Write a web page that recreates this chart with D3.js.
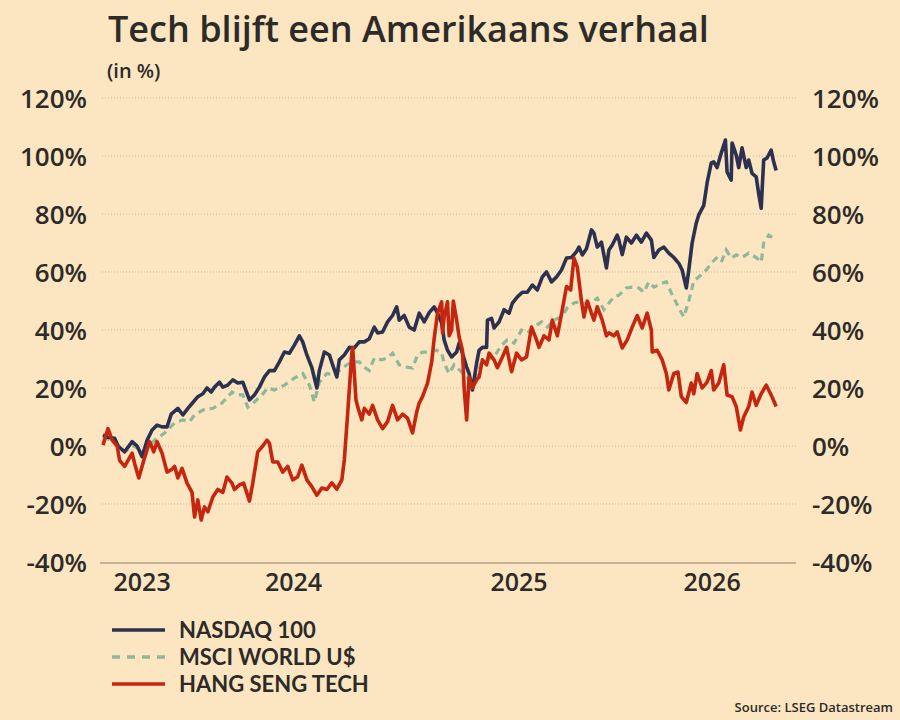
<!DOCTYPE html>
<html>
<head>
<meta charset="utf-8">
<script src="https://cdn.jsdelivr.net/npm/d3@7"></script>
<style>
  body { margin: 0; background: #fce6c1; }
  svg { display: block; font-family: "Open Sans", Lato, sans-serif; }
</style>
</head>
<body>
<div id="chart"></div>
<script>
// x values are trading days since start of the series, y values are % change
var nasdaq = [
  [0,3.8],[6,3],[14,2.7],[18,0],[26,-2],[35,1.5],[41,0],[47,-3.7],[53,2],[59,5.5],[65,7.2],[71,6.6],[77,6.6],
  [82,11],[90,13],[96,10.7],[102,13],[108,15],[114,17],[120,18],[125,20],[130,18.6],[134,20.3],[140,22],
  [144,20.3],[150,21],[156,22.8],[162,21.7],[168,22],[176,15.9],[182,17.6],[188,20.3],[194,23.8],[200,26],
  [206,26],[212,29],[218,32.4],[224,32],[230,34.8],[236,38],[240,35.9],[245,31.4],[251,27],[257,20],[260,26],
  [266,32.4],[272,31.4],[276,28],[281,23.8],[284,29.7],[290,31.4],[296,34],[302,33.8],[308,35.9],[314,35.9],
  [320,37],[326,41],[330,39],[336,39.3],[342,42.8],[348,45],[353,48],[356,43.4],[362,45],[368,41],[374,40],
  [380,45.8],[386,42.8],[392,46],[398,48],[402,45.8],[407,42.4],[410,36.6],[414,33],[419,30.7],[425,32.4],
  [428,35.5],[432,32],[437,27.2],[440,25],[444,19.3],[449,28.6],[452,33],[456,34],[461,34],[462,43.4],
  [467,44],[470,40.7],[476,42.8],[482,47],[488,45.8],[492,49.3],[498,51.4],[504,53],[510,53],[516,55.5],
  [522,53.8],[528,58.3],[533,60],[539,56.6],[545,58.3],[551,60.7],[557,64.8],[563,65],[569,67],[572,68.6],
  [576,65.9],[581,68],[587,74.5],[590,73.4],[594,68.6],[599,70.3],[605,61.4],[608,67.6],[612,69.3],[618,72.7],
  [620,71],[624,66],[629,72],[635,70],[641,72.7],[647,70.3],[653,73.4],[659,71],[662,65],[668,67.6],[674,68.6],
  [680,66.5],[686,65],[692,63],[696,60.7],[701,54.5],[704,60.7],[708,70],[713,76.9],[716,79.7],[722,83],
  [726,90.7],[731,97.6],[734,98],[738,96],[743,101],[748,105.5],[750,94.5],[755,91.7],[756,104.5],[761,100.3],
  [764,96],[768,102.8],[773,96],[776,98.6],[780,94],[785,92.8],[788,87],[791,82],[794,98.6],[798,99.3],
  [803,102],[806,98],[809,95]
];

var msciWorld = [
  [0,3],[14,1.5],[26,-2],[38,0],[47,-2],[65,2.7],[74,4.5],[86,8],[96,9],[104,8.4],[110,10.7],[120,12.4],
  [132,13],[143,14.8],[150,17],[155,18.6],[162,17.6],[168,17.6],[174,13.4],[182,15.2],[191,17.6],[198,20],
  [206,19.3],[218,21],[230,23.4],[240,25],[248,21],[254,15.2],[260,22],[269,25],[278,24.5],[284,26],[293,28],
  [300,29],[308,29],[314,27.2],[320,26],[326,30.3],[335,29.7],[341,30.3],[348,32],[356,28],[365,27.2],
  [372,26.9],[378,31.4],[384,32.4],[392,32.4],[401,33],[407,32],[410,28.6],[416,25],[422,28],[431,25.5],
  [437,23.8],[443,21.7],[449,23.8],[455,29],[462,29.7],[470,30.7],[479,34.8],[486,36.6],[494,35.5],[503,40],
  [510,39],[518,41],[527,42.8],[534,41],[542,43.4],[551,44.5],[558,47.6],[566,49.3],[572,49.7],[578,49.3],
  [587,49.3],[594,51],[602,47],[608,49.3],[614,51.4],[620,52],[629,54.5],[636,54.8],[644,54.5],[650,53],
  [656,56.6],[662,54.8],[671,56],[677,56.6],[683,52.8],[689,49.3],[695,46],[698,44.5],[704,50],[710,57],
  [716,58.3],[725,60.7],[731,63],[737,64.8],[743,63.4],[749,67.6],[755,64.8],[761,65.9],[768,65],[776,66.5],
  [785,65],[791,63.4],[794,70],[800,72.7],[809,71]
];

var hangSengTech = [
  [0,0.3],[6,6],[11,2],[17,0],[20,-5],[26,-7],[35,-2.5],[38,-6],[43,-11],[50,-4],[56,1.5],[61,-2],[65,1.5],
  [71,-2.5],[77,-9],[83,-8],[86,-7],[90,-11],[95,-7.7],[101,-12.8],[107,-16],[110,-24.5],[114,-18.6],
  [118,-25.5],[122,-21],[126,-22.7],[132,-17.6],[138,-15],[144,-16],[149,-10.7],[155,-12.8],[158,-15],
  [164,-13.4],[169,-12.8],[176,-19],[180,-12.8],[186,-2],[192,0],[197,2],[200,1],[204,-5.5],[210,-5.5],
  [216,-9],[222,-7],[228,-11.7],[234,-10.6],[239,-6.6],[245,-11.7],[251,-14],[257,-17],[263,-14.5],[269,-15],
  [275,-12.7],[281,-14.9],[287,-11.7],[290,-4.8],[294,11],[299,32],[300,34],[304,16],[306,13.6],[311,9],
  [314,13],[320,11],[324,14],[330,9],[336,6],[342,8.4],[348,14],[354,9],[360,11],[366,9.6],[372,4.5],
  [377,11.7],[380,14.8],[384,17],[390,21.6],[395,29],[398,37],[402,45.8],[407,49.7],[408,39],[410,44.5],
  [414,49.7],[416,38],[419,40],[421,50],[425,43.4],[428,37.6],[432,33],[434,20],[437,9],[440,23.8],[444,20],
  [449,22.8],[452,23.8],[456,29.7],[461,28],[464,32],[470,29.7],[474,27],[480,30.7],[485,34],[491,25.6],
  [497,32],[503,29.7],[509,30.7],[515,41],[521,36.6],[524,34],[530,38],[536,36.6],[540,43.4],[546,38],
  [552,47],[557,55],[562,53.8],[566,64.8],[570,61.7],[575,50],[578,44.5],[582,50],[587,45.8],[590,43.4],
  [594,48],[600,43.4],[605,38],[608,39],[614,38],[618,39.3],[624,33.8],[630,36.6],[636,41],[642,45],
  [648,40.7],[654,45.8],[659,40],[660,32.4],[666,33],[672,29.7],[677,25],[680,19.3],[686,25],[691,25.5],
  [695,17],[701,15],[707,21.7],[710,18],[714,25],[720,20],[726,22],[731,26],[734,19.3],[740,21.7],[746,28],
  [750,17.6],[756,17],[761,13.6],[766,5.5],[770,10],[776,13.6],[780,18.6],[785,14],[791,18],[797,21],
  [800,19.3],[804,17],[809,13.6]
];

var yTicks = [-40, -20, 0, 20, 40, 60, 80, 100, 120];
var yearLabels = ["2023", "2024", "2025", "2026"];
var yearTickDays = [47, 229, 500, 732];
var seriesNames = ["NASDAQ 100", "MSCI WORLD U$", "HANG SENG TECH"];

var COLOUR_NASDAQ = "#2c3150";
var COLOUR_MSCI = "#8fb89b";
var COLOUR_HST = "#c5260f";
var COLOUR_TEXT = "#2d2b29";

var width = 900;
var height = 720;

var svg = d3.select("#chart")
  .append("svg")
  .attr("width", width)
  .attr("height", height);

svg.append("rect")
  .attr("width", width)
  .attr("height", height)
  .attr("fill", "#fce6c1");

var x = d3.scaleLinear()
  .domain([0, 810])
  .range([103, 777]);

var y = d3.scaleLinear()
  .domain([-40, 120])
  .range([562, 98]);

// title
svg.append("text")
  .attr("x", 108)
  .attr("y", 42)
  .attr("fill", COLOUR_TEXT)
  .style("font-size", "36px")
  .style("font-weight", "600")
  .text("Tech blijft een Amerikaans verhaal");

svg.append("text")
  .attr("x", 107)
  .attr("y", 78)
  .attr("fill", COLOUR_TEXT)
  .style("font-size", "20px")
  .style("font-weight", "600")
  .text("(in %)");

// grid
svg.append("g")
  .selectAll("line")
  .data(yTicks.filter(function(d) { return d > -40; }))
  .enter().append("line")
  .attr("x1", 102)
  .attr("x2", 797)
  .attr("y1", function(d) { return y(d); })
  .attr("y2", function(d) { return y(d); })
  .attr("stroke", "#cbb99c")
  .attr("stroke-width", 1)
  .attr("stroke-dasharray", "1,2");

svg.append("line")
  .attr("x1", 100)
  .attr("x2", 796)
  .attr("y1", y(-40) + 1)
  .attr("y2", y(-40) + 1)
  .attr("stroke", "#8c7a68")
  .attr("stroke-width", 1.2);

// y axes
var fmt = function(d) { return d + "%"; };

var leftAxis = svg.append("g")
  .attr("transform", "translate(87,0)")
  .call(d3.axisLeft(y).tickValues(yTicks).tickSize(0).tickPadding(0).tickFormat(fmt));

var rightAxis = svg.append("g")
  .attr("transform", "translate(812,0)")
  .call(d3.axisRight(y).tickValues(yTicks).tickSize(0).tickPadding(0).tickFormat(fmt));

[leftAxis, rightAxis].forEach(function(a) {
  a.select(".domain").remove();
  a.selectAll("text")
    .attr("fill", COLOUR_TEXT)
    .attr("dy", "0.36em")
    .style("font-family", "'Open Sans', sans-serif")
    .style("font-size", "26px")
    .style("font-weight", "600");
});

// x year labels
svg.append("g")
  .selectAll("text")
  .data(yearLabels)
  .enter().append("text")
  .attr("x", function(d, i) { return x(yearTickDays[i]); })
  .attr("y", 591)
  .attr("text-anchor", "middle")
  .attr("fill", COLOUR_TEXT)
  .style("font-size", "25px")
  .style("font-weight", "600")
  .text(function(d) { return d; });

// lines
var line = d3.line()
  .x(function(d) { return x(d[0]); })
  .y(function(d) { return y(d[1]); })
  .curve(d3.curveLinear);

svg.append("path")
  .datum(msciWorld)
  .attr("fill", "none")
  .attr("stroke", COLOUR_MSCI)
  .attr("stroke-width", 3.2)
  .attr("stroke-dasharray", "7,5")
  .attr("d", line);

svg.append("path")
  .datum(nasdaq)
  .attr("fill", "none")
  .attr("stroke", COLOUR_NASDAQ)
  .attr("stroke-width", 3.6)
  .attr("stroke-linejoin", "round")
  .attr("d", line);

svg.append("path")
  .datum(hangSengTech)
  .attr("fill", "none")
  .attr("stroke", COLOUR_HST)
  .attr("stroke-width", 3.6)
  .attr("stroke-linejoin", "round")
  .attr("d", line);

// legend
var legendColours = [COLOUR_NASDAQ, COLOUR_MSCI, COLOUR_HST];
var legend = svg.append("g")
  .selectAll("g")
  .data(seriesNames)
  .enter().append("g")
  .attr("transform", function(d, i) { return "translate(0," + (630 + i * 27) + ")"; });

legend.append("line")
  .attr("x1", 112)
  .attr("x2", 165)
  .attr("stroke", function(d, i) { return legendColours[i]; })
  .attr("stroke-width", 3.5)
  .attr("stroke-dasharray", function(d, i) { return i == 1 ? "8,7" : null; });

legend.append("text")
  .attr("x", 179)
  .attr("y", 8)
  .attr("fill", COLOUR_TEXT)
  .style("font-family", "Lato, sans-serif")
  .style("font-size", "22px")
  .style("font-weight", "700")
  .text(function(d) { return d; });

svg.append("text")
  .attr("x", 893)
  .attr("y", 712)
  .attr("text-anchor", "end")
  .attr("fill", COLOUR_TEXT)
  .style("font-size", "13px")
  .style("font-weight", "600")
  .text("Source: LSEG Datastream");
</script>
</body>
</html>
